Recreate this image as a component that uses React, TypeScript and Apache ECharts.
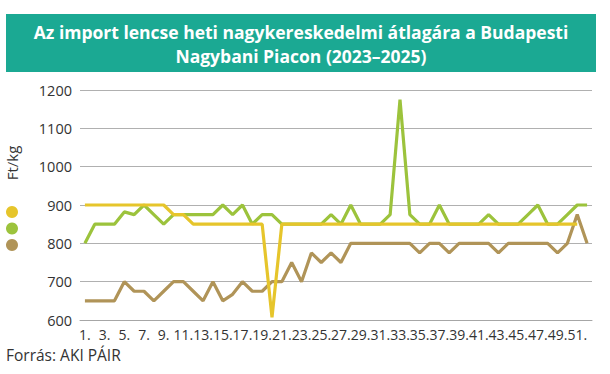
import React, { useEffect, useRef } from "react";
import * as echarts from "echarts";

const weeks: string[] = Array.from({ length: 52 }, (_, i) => `${i + 1}.`);

const yellowName = "2025";
const greenName = "2024";
const brownName = "2023";

const yellowValues: (number | null)[] = [
  900, 900, 900, 900, 900, 900, 900, 900, 900, 875,
  875, 850, 850, 850, 850, 850, 850, 850, 850, 607,
  850, 850, 850, 850, 850, 850, 850, 850, 850, 850,
  850, 850, 850, 850, 850, 850, 850, 850, 850, 850,
  850, 850, 850, 850, 850, 850, 850, 850, 850, 850,
  850, null,
];

const greenValues: number[] = [
  800, 850, 850, 850, 882, 875, 900, 875, 850, 875,
  875, 875, 875, 875, 900, 875, 900, 850, 875, 875,
  850, 850, 850, 850, 850, 875, 850, 900, 850, 850,
  850, 875, 1175, 875, 850, 850, 900, 850, 850, 850,
  850, 875, 850, 850, 850, 875, 900, 850, 850, 875,
  900, 900,
];

const brownValues: number[] = [
  650, 650, 650, 650, 700, 675, 675, 650, 675, 700,
  700, 675, 650, 700, 650, 667, 700, 675, 675, 700,
  700, 750, 700, 775, 750, 775, 750, 800, 800, 800,
  800, 800, 800, 800, 775, 800, 800, 775, 800, 800,
  800, 800, 775, 800, 800, 800, 800, 800, 775, 800,
  875, 800,
];

const yMin = 600;
const yMax = 1200;
const yStep = 100;

const titleText =
  "Az import lencse heti nagykereskedelmi átlagára a Budapesti\nNagybani Piacon (2023–2025)";
const unitText = "Ft/kg";
const sourceText = "Forrás: AKI PÁIR";

const YELLOW = "#e6c52b";
const GREEN = "#9cc33c";
const BROWN = "#b09458";
const FONT = "'Open Sans', 'Noto Sans', sans-serif";

export default function App() {
  const ref = useRef<HTMLDivElement>(null);

  useEffect(() => {
    if (!ref.current) return;
    const chart = echarts.init(ref.current, undefined, { renderer: "svg" });
    const line = (name: string, data: (number | null)[], color: string) => ({
      name,
      type: "line",
      data,
      symbol: "none",
      lineStyle: { color, width: 3.2 },
      itemStyle: { color },
    });
    chart.setOption({
      animation: false,
      backgroundColor: "#fff",
      textStyle: { fontFamily: FONT },
      grid: { left: 80, right: 18, top: 90, bottom: 54, containLabel: false },
      graphic: [
        {
          type: "rect",
          shape: { x: 6, y: 14, width: 590, height: 58 },
          style: { fill: "#1ba993" },
          z: 0,
        },
        {
          type: "text",
          x: 301,
          y: 44,
          style: {
            text: titleText,
            fill: "#ffffff",
            font: `bold 17.5px ${FONT}`,
            textAlign: "center",
            textVerticalAlign: "middle",
            lineHeight: 24,
          },
          z: 1,
        },
        {
          type: "text",
          x: 12,
          y: 163,
          rotation: Math.PI / 2,
          style: {
            text: unitText,
            fill: "#333",
            font: `15px ${FONT}`,
            textAlign: "center",
            textVerticalAlign: "middle",
          },
        },
        {
          type: "text",
          x: 6,
          y: 355,
          style: {
            text: sourceText,
            fill: "#333",
            font: `15.5px ${FONT}`,
            textAlign: "left",
            textVerticalAlign: "middle",
          },
        },
      ],
      legend: {
        orient: "vertical",
        left: 1,
        top: 201,
        icon: "circle",
        itemWidth: 12,
        itemHeight: 12,
        itemGap: 4.5,
        data: [yellowName, greenName, brownName],
        formatter: () => "",
        textStyle: { fontSize: 1 },
      },
      xAxis: {
        type: "category",
        data: weeks,
        boundaryGap: true,
        axisLine: { lineStyle: { color: "#a6a6a6", width: 1 } },
        axisTick: { interval: 0, length: 5, lineStyle: { color: "#a6a6a6" } },
        axisLabel: {
          interval: 1,
          hideOverlap: false,
          color: "#333",
          fontSize: 14,
          margin: 7,
          fontFamily: FONT,
        },
        splitLine: { show: false },
      },
      yAxis: {
        type: "value",
        min: yMin,
        max: yMax,
        interval: yStep,
        axisLine: { show: false },
        axisTick: { show: false },
        axisLabel: {
          color: "#333",
          fontSize: 14.5,
          margin: 8,
          fontFamily: FONT,
          formatter: (v: number) => String(v),
        },
        splitLine: { lineStyle: { color: "#b0b0b0", width: 1 } },
      },
      series: [
        line(brownName, brownValues, BROWN),
        line(greenName, greenValues, GREEN),
        line(yellowName, yellowValues, YELLOW),
      ],
    });
    return () => chart.dispose();
  }, []);

  return (
    <div
      ref={ref}
      style={{ position: "fixed", left: 0, top: 0, width: 610, height: 374 }}
    />
  );
}
